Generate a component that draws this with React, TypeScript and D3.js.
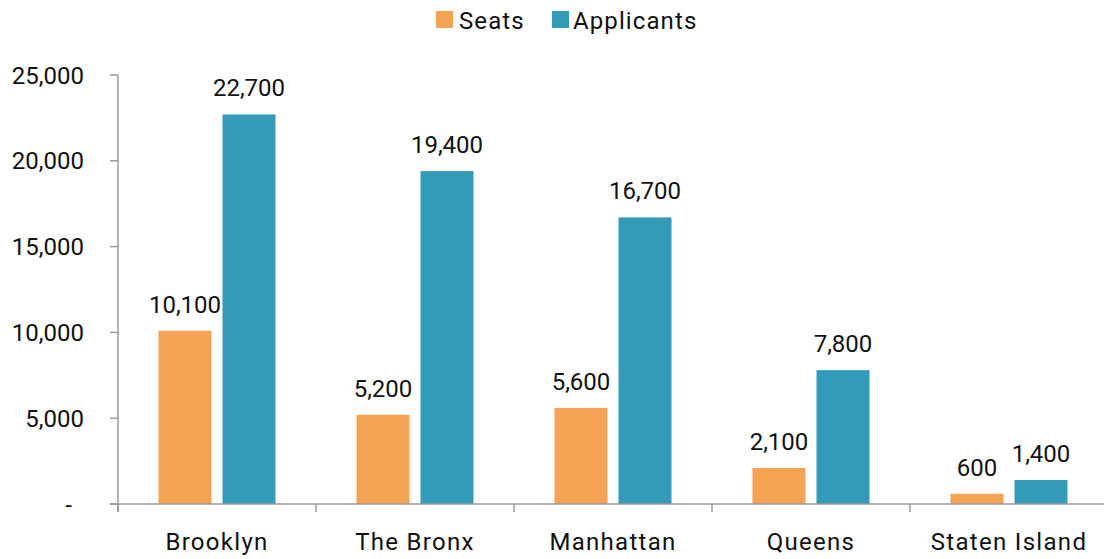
import React from "react";
import * as d3 from "d3";

const categories = ["Brooklyn", "The Bronx", "Manhattan", "Queens", "Staten Island"];
const seats = [10100, 5200, 5600, 2100, 600];
const applicants = [22700, 19400, 16700, 7800, 1400];
const yTicks = [0, 5000, 10000, 15000, 20000, 25000];
const seriesNames = ["Seats", "Applicants"];
const colors = ["#F4A254", "#339BB8"];

const W = 1104;
const H = 559;
const left = 118;
const right = 1108;
const top = 75;
const bottom = 504;
const font = "Roboto, 'DejaVu Sans', sans-serif";

export default function App() {
  const x = d3.scaleBand<string>().domain(categories).range([left, right]);
  const y = d3.scaleLinear().domain([0, 25000]).range([bottom, top]);
  const fmt = d3.format(",");
  const barW = 53;
  const gap = 11;
  const series = [seats, applicants];

  return (
    <svg width={W} height={H} style={{ position: "absolute", left: 0, top: 0 }}>
      <rect x={0} y={0} width={W} height={H} fill="#fff" />
      {/* legend */}
      <g fontFamily={font} fontSize={24} fill="#111" letterSpacing={1.1}>
        <rect x={436} y={11} width={17} height={17} fill={colors[0]} />
        <text x={459} y={28.5}>{seriesNames[0]}</text>
        <rect x={552} y={11} width={17} height={17} fill={colors[1]} />
        <text x={573} y={28.5}>{seriesNames[1]}</text>
      </g>
      {/* bars */}
      {categories.map((c, i) => {
        const cx = (x(c) as number) + x.bandwidth() / 2;
        return (
          <g key={c}>
            {series.map((s, k) => {
              const bx = k === 0 ? cx - gap / 2 - barW : cx + gap / 2;
              const by = y(s[i]);
              return (
                <g key={k}>
                  <rect x={bx} y={by} width={barW} height={bottom - by} fill={colors[k]} />
                  <text
                    x={bx + barW / 2}
                    y={by - 18}
                    textAnchor="middle"
                    fontFamily={font}
                    fontSize={24}
                    fill="#111"
                  >
                    {fmt(s[i])}
                  </text>
                </g>
              );
            })}
          </g>
        );
      })}
      {/* y axis */}
      <line x1={left} x2={left} y1={top} y2={bottom + 8} stroke="#9a9a9a" strokeWidth={1.5} />
      {yTicks.map((t) => (
        <g key={t}>
          <line x1={left - 8} x2={left} y1={y(t)} y2={y(t)} stroke="#9a9a9a" strokeWidth={1.5} />
          <text
            x={t === 0 ? 72 : 84}
            y={y(t) + 8.5}
            textAnchor="end"
            fontFamily={font}
            fontSize={24}
            fill="#111"
          >
            {t === 0 ? "-" : fmt(t)}
          </text>
        </g>
      ))}
      {/* x axis */}
      <line x1={left - 8} x2={right} y1={bottom} y2={bottom} stroke="#9a9a9a" strokeWidth={1.5} />
      {categories.map((c, i) => (
        <g key={c}>
          <line
            x1={x(c) as number}
            x2={x(c) as number}
            y1={bottom}
            y2={bottom + 8}
            stroke="#9a9a9a"
            strokeWidth={1.5}
          />
          <text
            x={(x(c) as number) + x.bandwidth() / 2}
            y={550}
            textAnchor="middle"
            fontFamily={font}
            fontSize={24}
            fill="#111"
            letterSpacing={1.3}
          >
            {c}
          </text>
        </g>
      ))}
    </svg>
  );
}
